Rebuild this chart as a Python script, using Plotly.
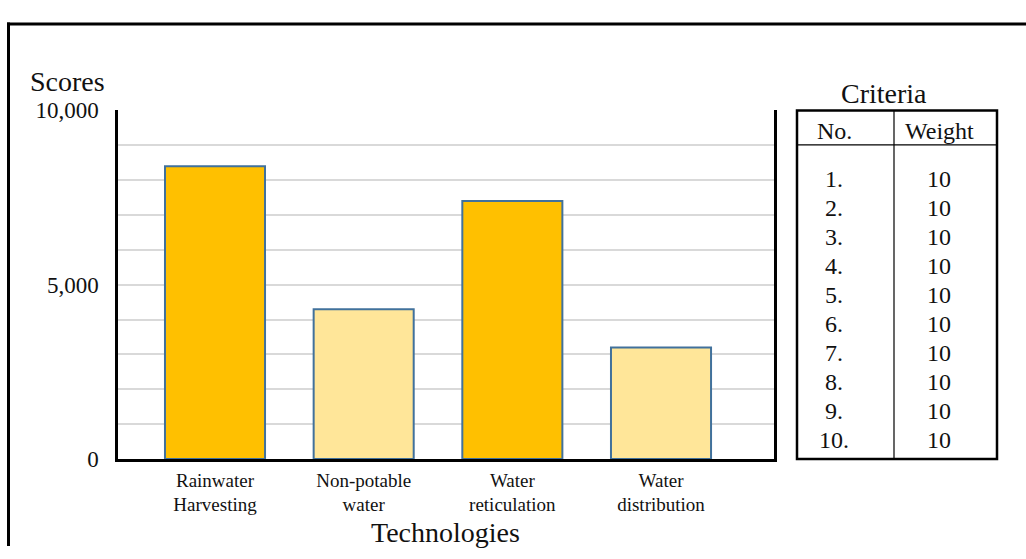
import plotly.graph_objects as go

# Technology scores
technologies = ["Rainwater<br>Harvesting", "Non-potable<br>water", "Water<br>reticulation", "Water<br>distribution"]
scores = [8400, 4300, 7400, 3200]
bar_colors = ["#FFC000", "#FFE699", "#FFC000", "#FFE699"]

# Criteria table
criteria_no = ["1.", "2.", "3.", "4.", "5.", "6.", "7.", "8.", "9.", "10."]
criteria_weight = [10, 10, 10, 10, 10, 10, 10, 10, 10, 10]

y_ticks = [0, 5000, 10000]
y_tick_text = ["0", "5,000", "10,000"]

W, H = 1026, 559
FONT = "Liberation Serif, Times New Roman, serif"


def px(x):
    return x / W


def py(y):
    return 1 - y / H


positions = list(range(len(technologies)))

fig = go.Figure()
fig.add_trace(go.Bar(
    x=positions,
    y=scores,
    width=0.673,
    marker=dict(color=bar_colors, line=dict(color="#41719C", width=2)),
    showlegend=False,
    hoverinfo="skip",
))

fig.update_layout(
    width=W,
    height=H,
    margin=dict(l=0, r=0, t=0, b=0),
    paper_bgcolor="white",
    plot_bgcolor="white",
    font=dict(family=FONT, color="black"),
    xaxis=dict(
        domain=[px(118), px(774)],
        range=[-0.6525, 3.76],
        tickvals=positions,
        ticktext=technologies,
        tickfont=dict(size=19, family=FONT, color="#111"),
        ticks="",
        ticklabelstandoff=2,
        showline=True,
        linecolor="black",
        linewidth=2.5,
        showgrid=False,
        zeroline=False,
        fixedrange=True,
    ),
    yaxis=dict(
        domain=[py(468), py(103)],
        range=[0, 10000],
        tickvals=y_ticks,
        ticktext=y_tick_text,
        tickfont=dict(size=23, family=FONT, color="#111"),
        ticks="",
        ticklabelstandoff=12,
        showline=True,
        mirror=True,
        linecolor="black",
        linewidth=2.5,
        showgrid=True,
        gridcolor="#d9d9d9",
        gridwidth=1.5,
        minor=dict(dtick=1000, showgrid=True, gridcolor="#d9d9d9", gridwidth=1.5),
        zeroline=False,
        fixedrange=True,
    ),
)

shapes = []
annotations = []

# Outer frame (left and top edges)
shapes.append(dict(type="line", xref="paper", yref="paper",
                   x0=px(8.5), x1=px(8.5), y0=py(11), y1=0,
                   line=dict(color="black", width=3)))
shapes.append(dict(type="line", xref="paper", yref="paper",
                   x0=px(7), x1=1, y0=py(12.5), y1=py(12.5),
                   line=dict(color="black", width=3)))

# Axis titles
annotations.append(dict(text="Scores", xref="paper", yref="paper",
                        x=px(67), y=py(73), showarrow=False,
                        xanchor="center", yanchor="middle",
                        font=dict(size=28, family=FONT, color="#111")))
annotations.append(dict(text="Technologies", xref="paper", yref="paper",
                        x=px(445), y=py(545), showarrow=False,
                        xanchor="center", yanchor="middle",
                        font=dict(size=28, family=FONT, color="#111")))

# Criteria table
tx0, tx1, ty0, ty1 = 797, 997, 103, 468
col_split = 894
header_line = 139
shapes.append(dict(type="rect", xref="paper", yref="paper",
                   x0=px(tx0), x1=px(tx1), y0=py(ty1), y1=py(ty0),
                   line=dict(color="black", width=2.5), fillcolor="rgba(0,0,0,0)"))
shapes.append(dict(type="line", xref="paper", yref="paper",
                   x0=px(col_split), x1=px(col_split), y0=py(ty1), y1=py(ty0),
                   line=dict(color="black", width=1.2)))
shapes.append(dict(type="line", xref="paper", yref="paper",
                   x0=px(tx0), x1=px(tx1), y0=py(header_line), y1=py(header_line),
                   line=dict(color="black", width=1.2)))

annotations.append(dict(text="Criteria", xref="paper", yref="paper",
                        x=px(884), y=py(85), showarrow=False,
                        xanchor="center", yanchor="middle",
                        font=dict(size=28, family=FONT, color="#111")))
col_no_x, col_w_x = 834, 939
annotations.append(dict(text="No.", xref="paper", yref="paper",
                        x=px(col_no_x), y=py(125), showarrow=False,
                        xanchor="center", yanchor="middle",
                        font=dict(size=24, family=FONT, color="#111")))
annotations.append(dict(text="Weight", xref="paper", yref="paper",
                        x=px(col_w_x), y=py(125), showarrow=False,
                        xanchor="center", yanchor="middle",
                        font=dict(size=24, family=FONT, color="#111")))

row_top, row_step = 175, 30.33
for i, (no, wt) in enumerate(zip(criteria_no, criteria_weight)):
    yy = row_top + i * row_step
    annotations.append(dict(text=no, xref="paper", yref="paper",
                            x=px(col_no_x), y=py(yy), showarrow=False,
                            xanchor="center", yanchor="middle",
                            font=dict(size=24, family=FONT, color="#111")))
    annotations.append(dict(text=str(wt), xref="paper", yref="paper",
                            x=px(col_w_x), y=py(yy), showarrow=False,
                            xanchor="center", yanchor="middle",
                            font=dict(size=24, family=FONT, color="#111")))

fig.update_layout(shapes=shapes, annotations=annotations)

fig.write_html("out.html")
